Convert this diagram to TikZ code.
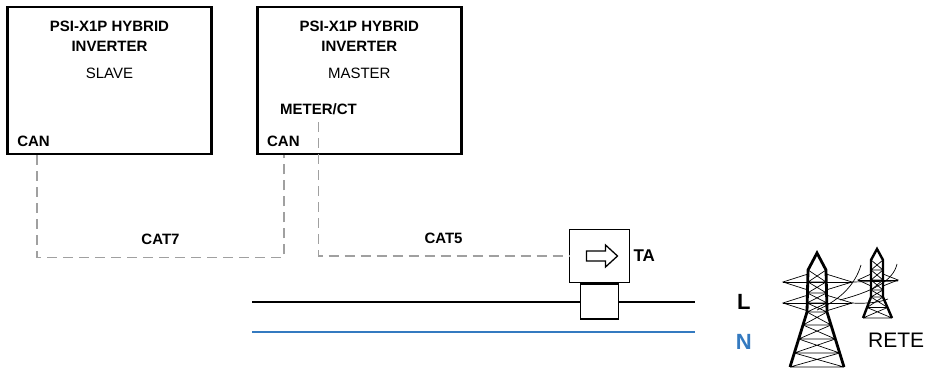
\documentclass[tikz,border=0pt]{standalone}
\usepackage{fontspec}
\setmainfont{Liberation Sans}
\usepackage{xcolor}
\usetikzlibrary{arrows.meta, positioning, calc}

\definecolor{cablegray}{RGB}{160,160,160}
\definecolor{nblue}{RGB}{52,122,192}

\begin{document}
\begin{tikzpicture}[x=1pt, y=-1pt,
  box/.style={draw, line width=2.8pt, minimum width=204pt, minimum height=147pt, inner sep=0},
  lbl/.style={font=\fontsize{15}{20}\selectfont\bfseries, inner sep=0, align=center},
  txt/.style={font=\fontsize{15}{18}\selectfont, inner sep=0},
  cable/.style={draw=cablegray, line width=1.4pt, dash pattern=on 10pt off 6pt},
  phase/.style={line width=1.8pt},
  neutral/.style={line width=1.8pt, nblue},
  ctbox/.style={draw, line width=1.7pt, fill=white, inner sep=0},
  leg/.style={line width=2.8pt, line join=miter},
  lattice/.style={line width=0.7pt},
  wire/.style={line width=0.7pt}
]
  \useasboundingbox (0,0) rectangle (936,371);

  % inverters
  \node[box] (slave) at (109.5,80.5) {};
  \node[box, right=43pt of slave] (master) {};

  \node[lbl] (slavetitle) at ($(slave.north)+(0,31)$) {PSI-X1P HYBRID\\INVERTER};
  \node[txt] (slaverole) at ($(slave.north)+(0,68)$) {SLAVE};
  \node[lbl, anchor=west] (slavecan) at ($(slave.south west)+(11,-14)$) {CAN};

  \node[lbl] (mastertitle) at ($(master.north)+(0,31)$) {PSI-X1P HYBRID\\INVERTER};
  \node[txt] (masterrole) at ($(master.north)+(0,68)$) {MASTER};
  \node[lbl, anchor=west] (mastercan) at ($(master.south west)+(11,-14)$) {CAN};
  \node[lbl, anchor=west] (meter) at ($(master.south west)+(24,-46)$) {METER/CT};

  \coordinate (slaveport)  at (slavecan.south -| 37,0);
  \coordinate (masterport) at (mastercan.south -| 284,0);
  \coordinate (meterport)  at ($(meter.south)+(0,7)$);

  % current transformer
  \node[ctbox, minimum width=60pt, minimum height=53pt] (ta) at (599.5,256) {};
  \draw[line width=1.3pt] ($(ta.center)+(-13,-5)$) -- ++(19,0) -- ++(0,-6) -- ++(12,11)
        -- ++(-12,11) -- ++(0,-6) -- ++(-19,0) -- cycle;
  \node[lbl, font=\fontsize{17}{20}\selectfont\bfseries, right=3pt of ta] (talbl) {TA};

  % CAN / meter cables
  \draw[cable] (slaveport |- slave.south) -- ++(0,102)
        -| node[lbl, pos=0.25, above=12pt] (cat7) {CAT7} (masterport |- master.south);
  \draw[cable] (meterport) |- node[lbl, pos=0.75, above=12pt] (cat5) {CAT5} (ta.west);

  % mains lines
  \coordinate (lstart) at (252,302);
  \coordinate (lend)   at (695,302);
  \coordinate (nstart) at (252,332);
  \coordinate (nend)   at (695,332);
  \draw[phase] (lstart) -- (lend);
  \draw[neutral] (nstart) -- (nend);
  \node[ctbox, minimum width=38pt, minimum height=35pt, anchor=north] (clamp) at (ta.south) {};

  \node[lbl, font=\fontsize{22}{24}\selectfont\bfseries, right=42pt of lend] (lphase) {L};
  \node[lbl, font=\fontsize{22}{24}\selectfont\bfseries, text=nblue, below=24pt of lphase] (nphase) {N};
  \node[txt, font=\fontsize{21}{24}\selectfont, anchor=west] (rete) at (868,340) {RETE};

  % big pylon
  \foreach \ya/\la/\ra/\yb/\lb/\rb in {270/808/826/282/808/826, 282/808/826/293/807.5/826.5,
      293/807.5/826.5/303/807/827, 303/807/827/312/807/827, 312/807/827/325/803/831,
      325/803/831/339/798.7/835.3, 339/798.7/835.3/353/794.3/839.7, 353/794.3/839.7/367/790/844}
    \draw[lattice] (\la,\ya) -- (\rb,\yb) (\ra,\ya) -- (\lb,\yb) (\lb,\yb) -- (\rb,\yb);
  \foreach \y in {282,303} {
    \draw[lattice] (783,\y) -- (852,\y);
    \draw[lattice] (808,\y-8) -- (783,\y) -- (808,\y+8);
    \draw[lattice] (826,\y-8) -- (852,\y) -- (826,\y+8);
  }
  \draw[leg] (790,367) -- (807,312) -- (808,270) -- (817,253) -- (826,270) -- (827,312) -- (844,367);

  % small pylon
  \foreach \ya/\la/\ra/\yb/\lb/\rb in {260/871/883/270/871/883, 270/871/883/280/871/883,
      280/871/883/290/871/883, 290/871/883/297/871/883, 297/871/883/307.5/867/887.5,
      307.5/867/887.5/318/863/892}
    \draw[lattice] (\la,\ya) -- (\rb,\yb) (\ra,\ya) -- (\lb,\yb) (\lb,\yb) -- (\rb,\yb);
  \draw[lattice] (858,280) -- (898,280);
  \draw[lattice] (871,274) -- (858,280) -- (871,286);
  \draw[lattice] (883,274) -- (898,280) -- (883,286);
  \draw[leg, line width=2.4pt] (863,318) -- (871,297) -- (871,260) -- (877,249) -- (883,260) -- (883,297) -- (892,318);

  % overhead wires
  \draw[wire] (817,310) .. controls (840,300) and (855,285) .. (861,265);
  \draw[wire] (840,300) .. controls (870,292) and (893,282) .. (897,264);
  \draw[wire] (852,282) -- (898,281);
  \draw[wire] (852,303) .. controls (868,304) and (880,302) .. (888,299);
\end{tikzpicture}
\end{document}
